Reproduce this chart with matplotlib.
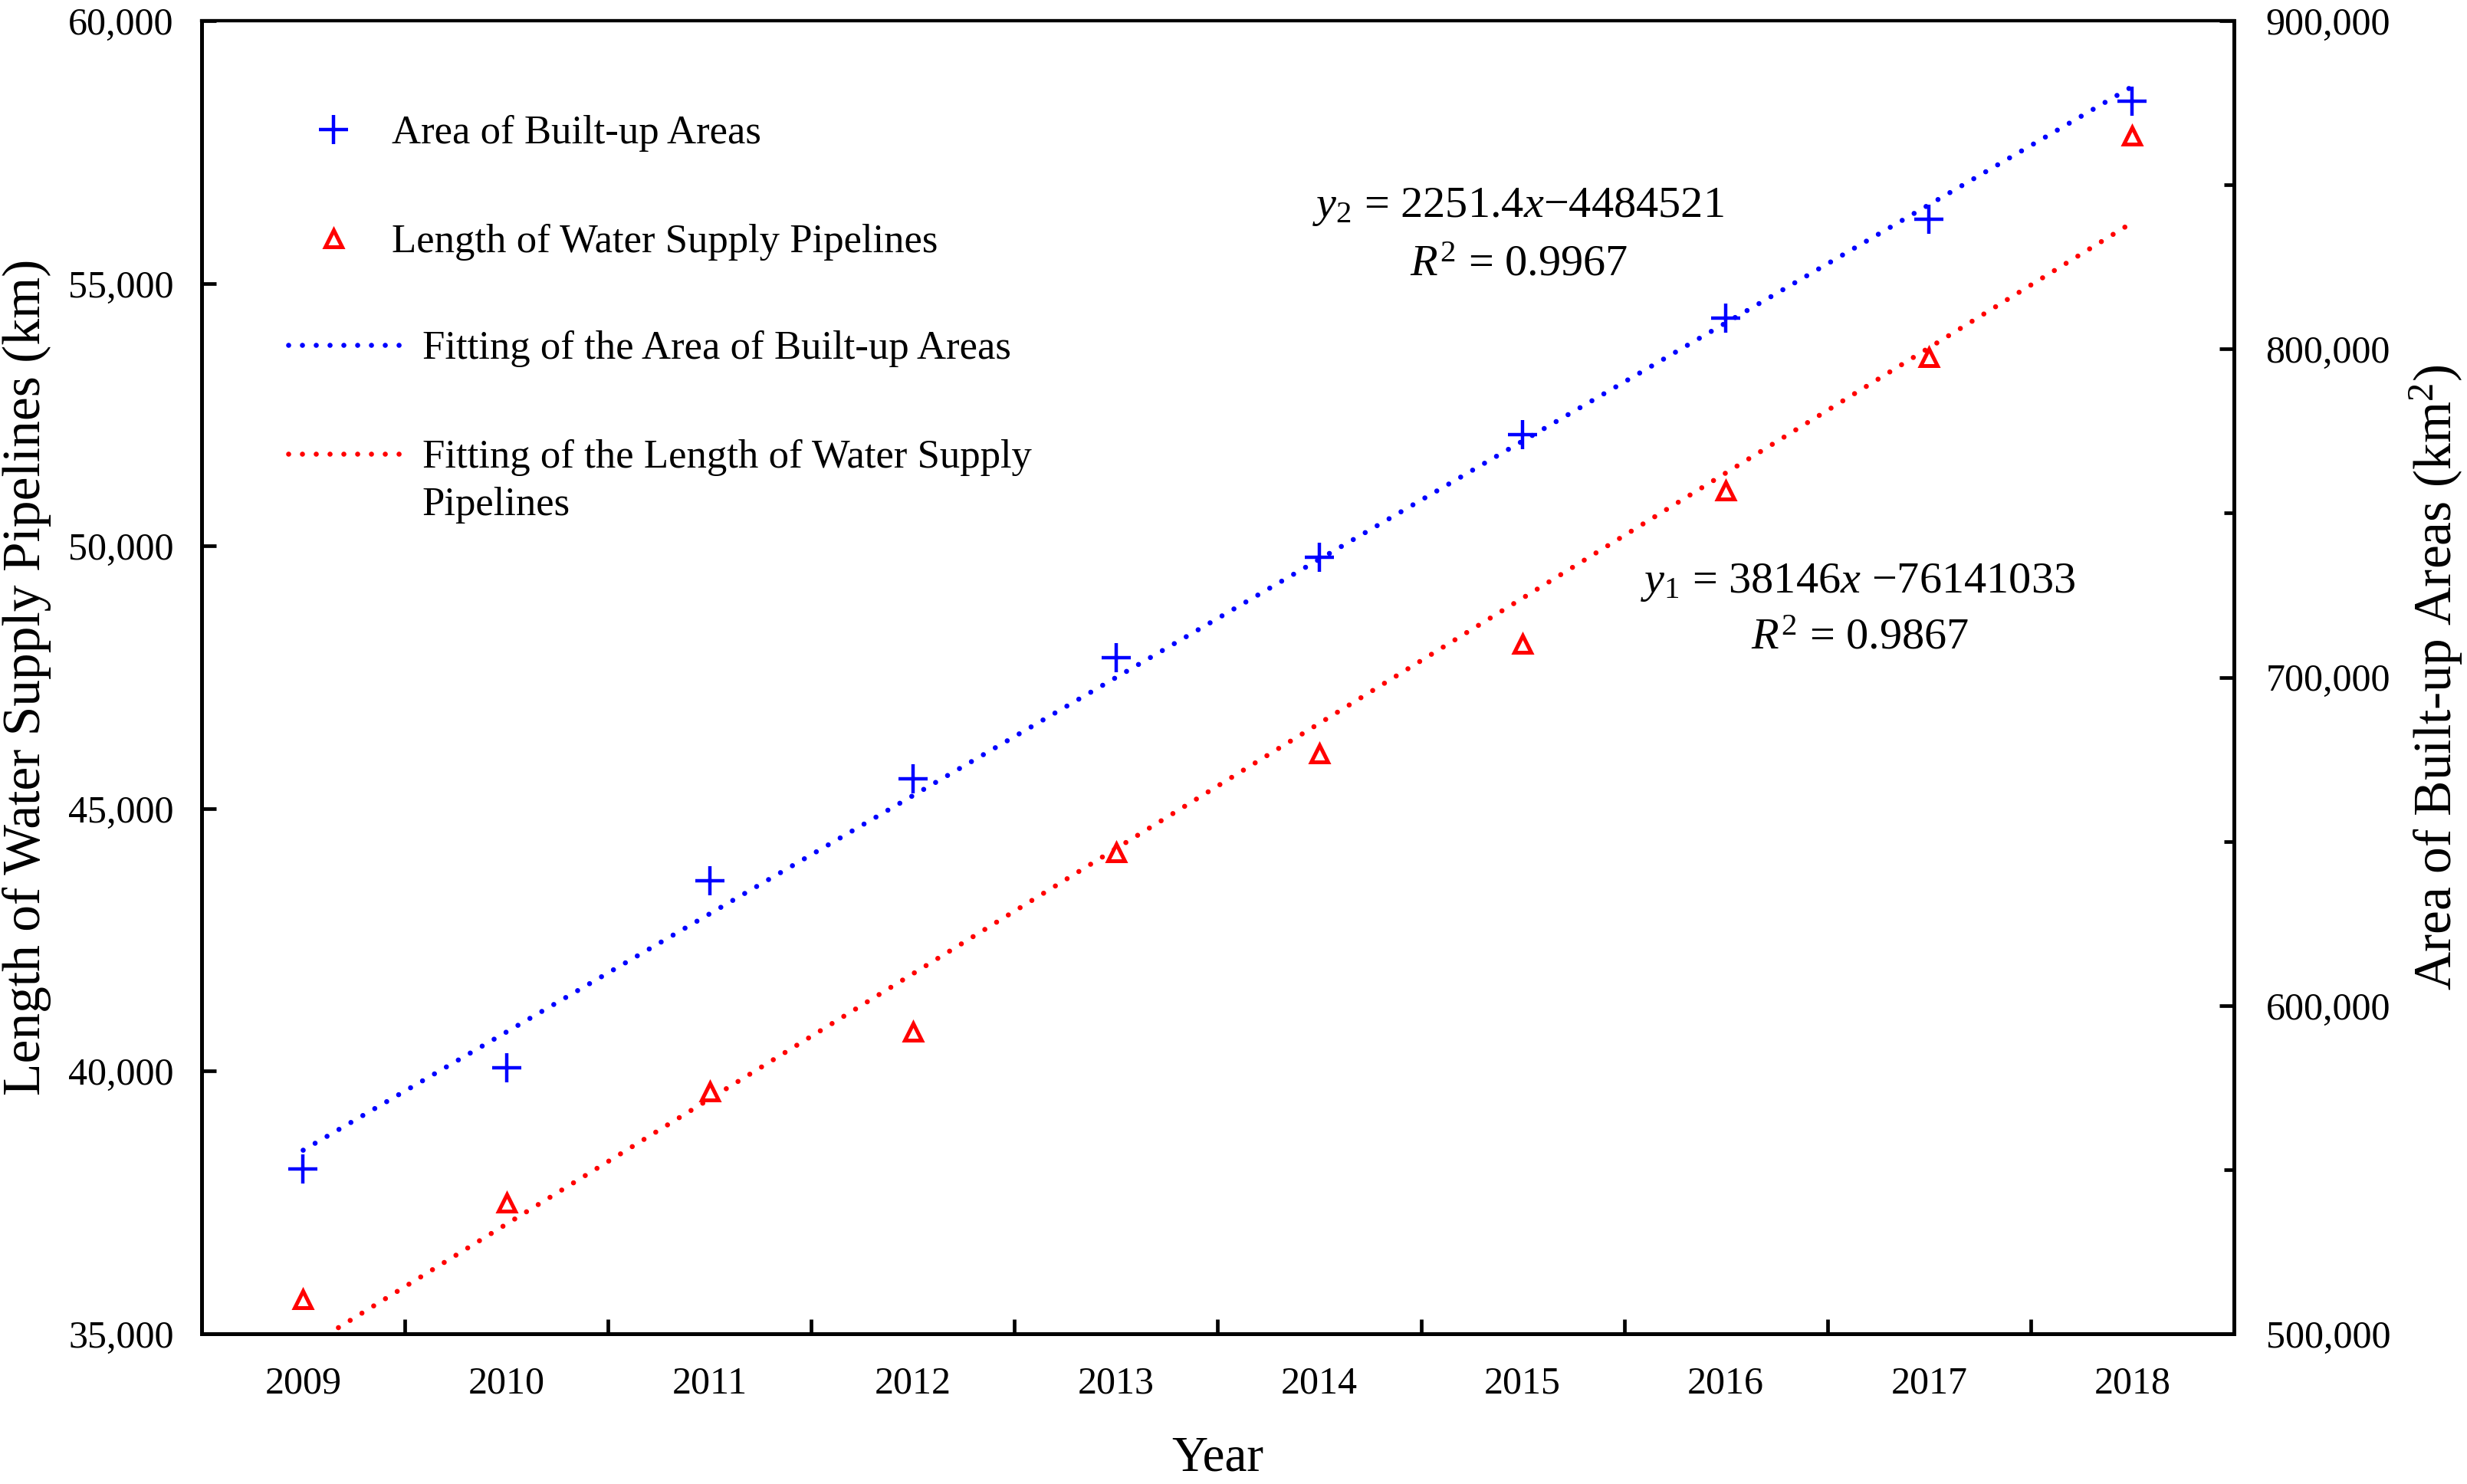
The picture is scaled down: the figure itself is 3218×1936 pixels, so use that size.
import matplotlib
matplotlib.use("Agg")
import matplotlib.pyplot as plt
import numpy as np
from matplotlib.ticker import FuncFormatter, FixedLocator

plt.rcParams['font.family'] = ['Liberation Serif', 'DejaVu Serif']
plt.rcParams['mathtext.fontset'] = 'custom'
plt.rcParams['mathtext.rm'] = 'Liberation Serif'
plt.rcParams['mathtext.it'] = 'Liberation Serif:italic'

# ---- data ----
years = [2009, 2010, 2011, 2012, 2013, 2014, 2015, 2016, 2017, 2018]
pipeline_length_km = [35660, 37490, 39610, 40750, 44160, 46050, 48140, 51050, 53590, 57810]
built_up_area_km2 = [550300, 580950, 637950, 669090, 705970, 736630, 774000, 809430, 839600, 875540]
left_ticks = [35000, 40000, 45000, 50000, 55000, 60000]
right_major = [500000, 600000, 700000, 800000, 900000]
right_minor = [550000, 650000, 750000, 850000]
eq_area = "$y_2$ = 2251.4$x$\u22124484521"
r2_area = "$R^2$ = 0.9967"
eq_len = "$y_1$ = 38146$x$ \u221276141033"
r2_len = "$R^2$ = 0.9867"

pos = np.arange(1, len(years) + 1)

fig = plt.figure(figsize=(32.18, 19.36), dpi=100)
ax = fig.add_axes([0.0817, 0.1012, 0.8238, 0.8848])
ax2 = ax.twinx()

BLUE = '#0000ff'
RED = '#ff0000'
dot = (0, (0.001, 2.7))

# linear fits
p_len = np.polyfit(pos, pipeline_length_km, 1)
p_area = np.polyfit(pos, built_up_area_km2, 1)

l_fit_len, = ax.plot(pos, np.polyval(p_len, pos), color=RED, lw=4.8, linestyle=dot,
                     dash_capstyle='round', label='Fitting of the Length of Water Supply')
m_len, = ax.plot(pos, pipeline_length_km, linestyle='none', marker='^', ms=16,
                 mfc='white', mec=RED, mew=3.6, label='Length of Water Supply Pipelines')
l_fit_area, = ax2.plot(pos, np.polyval(p_area, pos), color=BLUE, lw=4.8, linestyle=dot,
                       dash_capstyle='round', label='Fitting of the Area of Built-up Areas')
m_area, = ax2.plot(pos, built_up_area_km2, linestyle='none', marker='+', ms=27,
                   mew=3.2, color=BLUE, label='Area of Built-up Areas')

# axes limits / ticks
ax.set_xlim(0.5, len(years) + 0.5)
ax.set_ylim(35000, 60000)
ax2.set_ylim(500000, 900000)

fmt = FuncFormatter(lambda v, p: f"{v:,.0f}")
ax.set_xticks(pos)
ax.set_xticklabels([str(y) for y in years])
ax.xaxis.set_minor_locator(FixedLocator(pos[:-1] + 0.5))
ax.tick_params(axis='x', which='major', length=0, pad=30, labelsize=36)
ax.tick_params(axis='x', which='minor', direction='in', length=13.5, width=3.4)
ax.set_yticks(left_ticks)
ax.yaxis.set_major_formatter(fmt)
ax.tick_params(axis='y', which='major', direction='in', length=13.5, width=3.4, pad=26, labelsize=36)
ax2.set_yticks(right_major)
ax2.yaxis.set_minor_locator(FixedLocator(right_minor))
ax2.yaxis.set_major_formatter(fmt)
ax2.tick_params(axis='y', which='major', direction='in', length=13.5, width=3.4, pad=30, labelsize=36)
ax2.tick_params(axis='y', which='minor', direction='in', length=9.5, width=3.4)

for a in (ax, ax2):
    for name, s in a.spines.items():
        s.set_linewidth(3.0 if name == 'top' else 3.6)

ax.set_xlabel('Year', fontsize=47, labelpad=32)
ax.set_ylabel('Length of Water Supply Pipelines (km)', fontsize=50, labelpad=16)
ax2.set_ylabel('Area of Built-up Areas (km$^2$)', fontsize=50, labelpad=16)

# equations
ax2.text(0.648, 0.858, eq_area, transform=ax.transAxes, ha='center', va='center', fontsize=42)
ax2.text(0.648, 0.814, r2_area, transform=ax.transAxes, ha='center', va='center', fontsize=42)
ax2.text(0.815, 0.572, eq_len, transform=ax.transAxes, ha='center', va='center', fontsize=42)
ax2.text(0.816, 0.530, r2_len, transform=ax.transAxes, ha='center', va='center', fontsize=42)

# legends
legA = ax2.legend(handles=[m_area, m_len], loc='upper left', bbox_to_anchor=(0.055, 0.928),
                  frameon=False, fontsize=38, numpoints=1, handlelength=1.0,
                  handletextpad=0.94, labelspacing=1.78, borderpad=0, borderaxespad=0)
ax2.add_artist(legA)
legB = ax2.legend(handles=[l_fit_area, l_fit_len], loc='upper left', bbox_to_anchor=(0.0426, 0.764),
                  frameon=False, fontsize=38, handlelength=2.92, handletextpad=0.39,
                  labelspacing=1.78, borderpad=0, borderaxespad=0)
fig.canvas.draw()
second = legB.get_texts()[1]
ax2.annotate('Pipelines', xy=(0, 1), xycoords=second, xytext=(0, -44.5),
             textcoords='offset points', ha='left', va='top', fontsize=38)

fig.savefig('out.png', dpi=100)
